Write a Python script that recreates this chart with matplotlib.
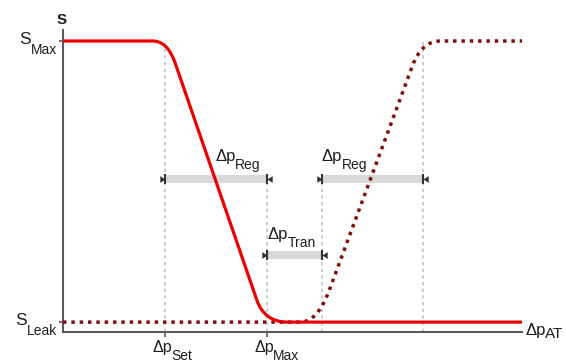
import matplotlib
matplotlib.use("Agg")
import matplotlib.pyplot as plt
from matplotlib.path import Path
from matplotlib.patches import PathPatch

plt.rcParams['font.family'] = ['Liberation Sans', 'DejaVu Sans']

# ---------------- data ----------------
s_max = 1.0
s_leak = 0.034
dp_set = 2.0
dp_max = 4.0
dp_tran_end = 5.08
dp_reg2_end = 7.06

ytick_vals = [s_max, s_leak]
ytick_main = ['S', 'S']
ytick_sub = ['Max', 'Leak']
xtick_vals = [dp_set, dp_max]
xtick_main = ['Δp', 'Δp']
xtick_sub = ['Set', 'Max']

# solid red curve (vertices of a smoothed polyline)
red_x = [0.0, 1.76, 2.05, 2.20, 3.80, 3.95, 4.40, 9.0]
red_y = [1.0, 1.0, 1.0, 0.924, 0.110, 0.034, 0.034, 0.034]
# dotted dark-red curve
dot_x = [0.0, 4.65, 4.99, 5.22, 6.85, 7.03, 7.40, 9.0]
dot_y = [0.034, 0.034, 0.034, 0.143, 0.914, 1.0, 1.0, 1.0]
curve_codes = [Path.MOVETO, Path.LINETO, Path.CURVE3, Path.CURVE3,
               Path.LINETO, Path.CURVE3, Path.CURVE3, Path.LINETO]

# interval bars: (start, end, level)
bar_start = [dp_set, dp_tran_end, dp_max]
bar_end = [dp_max, dp_reg2_end, dp_tran_end]
bar_level = [0.525, 0.525, 0.2646]
bar_sub = ['Reg', 'Reg', 'Tran']

# vertical guide lines: x, top
guide_x = [dp_set, dp_max, dp_tran_end, dp_reg2_end]
guide_top = [0.993, 0.525, 0.525, 0.997]

# ---------------- figure ----------------
W, H = 566, 363
fig = plt.figure(figsize=(W / 100, H / 100), dpi=100)
ax_l, ax_r, ax_b, ax_t = 63, 522, 332, 30
ax = fig.add_axes([ax_l / W, (H - ax_b) / H, (ax_r - ax_l) / W, (ax_b - ax_t) / H])
ax.set_xlim(0, 9)
ax.set_ylim(0, (ax_b - ax_t) / 291)

def px2x(px):
    return (px - 63) / 51.0

def py2y(py):
    return (332 - py) / 291.0

txt_col = '#1e1e1e'
axis_col = '#5a5a5a'
MAIN = 12
SUB = 10
for s in ['top', 'right']:
    ax.spines[s].set_visible(False)
for s in ['left', 'bottom']:
    ax.spines[s].set_color(axis_col)
    ax.spines[s].set_linewidth(1.5)

ax.set_yticks(ytick_vals, ['', ''])
ax.set_xticks(xtick_vals, ['', ''])
ax.tick_params(axis='y', length=3, width=1.2, color=axis_col)
ax.tick_params(axis='x', length=3.6, width=1.2, color=axis_col)


def label_left(x, y, main, sub, drop_px=9, main_size=MAIN, sub_size=SUB):
    """main text starting at x (baseline y), subscript after it, drop_px lower."""
    t = ax.text(x, y, main, fontsize=main_size, color=txt_col, ha='left',
                va='baseline', clip_on=False, zorder=6)
    desc = 0.212 * main_size  # descent in points
    ax.annotate(sub, xy=(1, 0), xycoords=t,
                xytext=(-0.6, desc - drop_px * 0.72), textcoords='offset points',
                fontsize=sub_size, color=txt_col, ha='left', va='baseline',
                annotation_clip=False, zorder=6)


def label_center(x, y, main, sub, drop_px=8.5):
    t = ax.text(x, y, main, fontsize=MAIN - 0.5, color=txt_col, ha='center',
                va='baseline', clip_on=False)
    desc = 0.212 * (MAIN - 0.5)
    ax.annotate(sub, xy=(1, 0), xycoords=t,
                xytext=(-0.6, desc - drop_px * 0.72), textcoords='offset points',
                fontsize=SUB, color=txt_col, ha='left', va='baseline',
                annotation_clip=False)


def label_right(x_right, y_sub, main, sub, drop_px=10):
    t = ax.text(x_right, y_sub, sub, fontsize=SUB, color=txt_col, ha='right',
                va='baseline', clip_on=False)
    desc = 0.212 * SUB
    ax.annotate(main, xy=(0, 0), xycoords=t,
                xytext=(0.3, desc + drop_px * 0.72), textcoords='offset points',
                fontsize=MAIN + 0.5, color=txt_col, ha='right', va='baseline',
                annotation_clip=False)


# guide lines
ax.vlines(guide_x, 0, guide_top, colors='#c4c4c4', linewidth=1.2,
          linestyles=(0, (2, 2)), zorder=1)

# bars
ax.hlines(bar_level, bar_start, bar_end, colors='#d9d9d9', linewidth=5.8, zorder=2)
cap_col = '#333333'
tri_right = [(-1, -0.65), (0, 0), (-1, 0.65), (-1, -0.65)]
tri_left = [(1, -0.65), (0, 0), (1, 0.65), (1, -0.65)]
ax.plot(bar_start, bar_level, linestyle='none', marker=tri_right, markersize=7.5,
        color=cap_col, markeredgewidth=0, zorder=3, clip_on=False)
ax.plot(bar_end, bar_level, linestyle='none', marker=tri_left, markersize=7.5,
        color=cap_col, markeredgewidth=0, zorder=3, clip_on=False)
ax.plot(bar_start + bar_end, bar_level + bar_level, linestyle='none', marker='|',
        markersize=7, color=cap_col, markeredgewidth=1.5, zorder=3, clip_on=False)

# curves
dot_path = Path(list(zip(dot_x, dot_y)), curve_codes)
ax.add_patch(PathPatch(dot_path, fill=False, edgecolor='#7d0f0f', linewidth=2.5,
                       linestyle=(0, (1, 1.4)), capstyle='butt', zorder=4, clip_on=False))
red_path = Path(list(zip(red_x, red_y)), curve_codes)
ax.add_patch(PathPatch(red_path, fill=False, edgecolor='#e60000', linewidth=2.3,
                       capstyle='butt', joinstyle='round', zorder=5, clip_on=False))

# bar labels
label_px = [(215, 161), (322, 161), (268, 239)]
for (lx, ly), sub in zip(label_px, bar_sub):
    label_left(px2x(lx), py2y(ly), 'Δp', sub)

# tick labels
for xv, m, s in zip(xtick_vals, xtick_main, xtick_sub):
    label_center(xv - 3 / 51.0, py2y(352), m, s)
for yv, m, s in zip(ytick_vals, ytick_main, ytick_sub):
    base_px = 332 - yv * 291
    label_right(px2x(57), py2y(base_px + 13), m, s)

# axis labels
ax.text(px2x(62), py2y(24), 'S', fontsize=11, fontweight='bold', color=txt_col,
        ha='center', va='baseline', clip_on=False)
label_left(px2x(525), py2y(335), 'Δp', 'AT', drop_px=4, main_size=MAIN, sub_size=SUB + 1)

fig.savefig('out.png', dpi=100)
